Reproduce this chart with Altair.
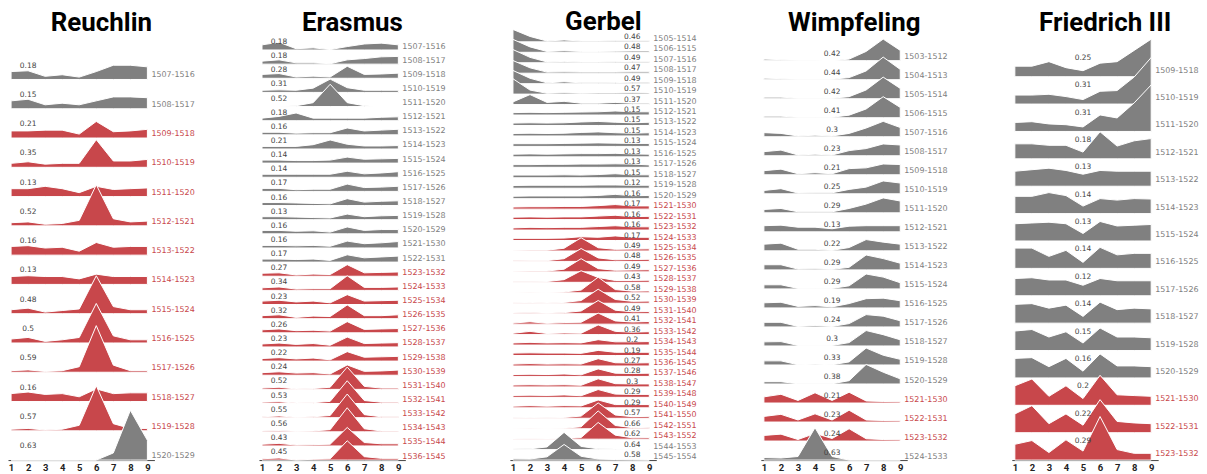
import altair as alt
import pandas as pd

X = [1, 2, 3, 4, 5, 6, 7, 8, 9]

# ---------------- Reuchlin ----------------
REU_FIRST = 1507
REU_RED = (1509, 1519)
REU_MAX = [0.18, 0.15, 0.21, 0.35, 0.13, 0.52, 0.16, 0.13, 0.48, 0.5, 0.59, 0.16, 0.57, 0.63]
REU_VALUES = [
    [0.10, 0.11, 0.04, 0.06, 0.03, 0.10, 0.18, 0.18, 0.16],
    [0.10, 0.12, 0.05, 0.07, 0.05, 0.10, 0.15, 0.15, 0.14],
    [0.09, 0.09, 0.10, 0.10, 0.05, 0.21, 0.08, 0.09, 0.11],
    [0.05, 0.07, 0.04, 0.05, 0.05, 0.35, 0.08, 0.08, 0.10],
    [0.10, 0.10, 0.13, 0.10, 0.05, 0.13, 0.09, 0.10, 0.11],
    [0.04, 0.05, 0.02, 0.03, 0.07, 0.52, 0.09, 0.05, 0.06],
    [0.11, 0.12, 0.09, 0.10, 0.05, 0.16, 0.10, 0.11, 0.11],
    [0.10, 0.11, 0.10, 0.10, 0.07, 0.13, 0.10, 0.10, 0.10],
    [0.05, 0.07, 0.02, 0.04, 0.06, 0.48, 0.09, 0.05, 0.05],
    [0.05, 0.07, 0.02, 0.04, 0.07, 0.50, 0.09, 0.04, 0.04],
    [0.02, 0.03, 0.01, 0.02, 0.07, 0.59, 0.09, 0.02, 0.02],
    [0.10, 0.12, 0.09, 0.10, 0.06, 0.16, 0.10, 0.11, 0.11],
    [0.02, 0.03, 0.01, 0.02, 0.07, 0.57, 0.09, 0.03, 0.03],
    [0.00, 0.00, 0.00, 0.00, 0.00, 0.00, 0.09, 0.63, 0.25],
]

# ---------------- Erasmus ----------------
ERA_FIRST = 1507
ERA_RED = (1523, 1536)
ERA_MAX = [0.18, 0.18, 0.28, 0.31, 0.52, 0.18, 0.16, 0.21, 0.14, 0.14, 0.17, 0.16, 0.13, 0.16, 0.16,
           0.17, 0.27, 0.34, 0.23, 0.32, 0.26, 0.23, 0.22, 0.24, 0.52, 0.53, 0.55, 0.56, 0.43, 0.45]
ERA_VALUES = [
    [0.12, 0.18, 0.03, 0.05, 0.01, 0.08, 0.14, 0.16, 0.12],
    [0.07, 0.10, 0.03, 0.03, 0.01, 0.10, 0.13, 0.17, 0.18],
    [0.09, 0.11, 0.03, 0.05, 0.03, 0.28, 0.09, 0.10, 0.12],
    [0.05, 0.06, 0.05, 0.10, 0.31, 0.11, 0.05, 0.05, 0.05],
    [0.00, 0.01, 0.02, 0.09, 0.52, 0.09, 0.02, 0.00, 0.00],
    [0.06, 0.10, 0.18, 0.06, 0.06, 0.06, 0.06, 0.08, 0.09],
    [0.06, 0.06, 0.04, 0.05, 0.05, 0.16, 0.09, 0.11, 0.13],
    [0.06, 0.06, 0.06, 0.10, 0.21, 0.11, 0.07, 0.07, 0.08],
    [0.07, 0.07, 0.06, 0.06, 0.07, 0.14, 0.09, 0.10, 0.11],
    [0.07, 0.07, 0.07, 0.07, 0.07, 0.14, 0.08, 0.10, 0.13],
    [0.07, 0.07, 0.04, 0.05, 0.05, 0.17, 0.09, 0.10, 0.12],
    [0.07, 0.07, 0.06, 0.05, 0.04, 0.16, 0.08, 0.10, 0.11],
    [0.07, 0.07, 0.06, 0.05, 0.04, 0.13, 0.07, 0.09, 0.10],
    [0.08, 0.08, 0.06, 0.07, 0.04, 0.16, 0.08, 0.10, 0.10],
    [0.06, 0.06, 0.05, 0.06, 0.04, 0.16, 0.10, 0.12, 0.15],
    [0.07, 0.07, 0.06, 0.07, 0.04, 0.17, 0.10, 0.12, 0.14],
    [0.07, 0.08, 0.03, 0.05, 0.04, 0.27, 0.08, 0.09, 0.10],
    [0.06, 0.08, 0.03, 0.04, 0.04, 0.34, 0.07, 0.07, 0.08],
    [0.08, 0.10, 0.06, 0.08, 0.04, 0.23, 0.08, 0.09, 0.10],
    [0.07, 0.09, 0.03, 0.06, 0.05, 0.32, 0.07, 0.07, 0.09],
    [0.07, 0.09, 0.05, 0.06, 0.04, 0.26, 0.08, 0.09, 0.10],
    [0.07, 0.09, 0.06, 0.08, 0.04, 0.23, 0.08, 0.09, 0.10],
    [0.06, 0.08, 0.05, 0.07, 0.03, 0.22, 0.09, 0.10, 0.11],
    [0.06, 0.08, 0.05, 0.06, 0.03, 0.24, 0.09, 0.10, 0.12],
    [0.03, 0.05, 0.01, 0.02, 0.05, 0.52, 0.07, 0.03, 0.03],
    [0.03, 0.04, 0.01, 0.02, 0.05, 0.53, 0.07, 0.03, 0.03],
    [0.02, 0.04, 0.01, 0.02, 0.05, 0.55, 0.07, 0.02, 0.02],
    [0.02, 0.03, 0.01, 0.02, 0.05, 0.56, 0.07, 0.02, 0.02],
    [0.04, 0.06, 0.02, 0.03, 0.04, 0.43, 0.08, 0.05, 0.05],
    [0.03, 0.05, 0.00, 0.02, 0.03, 0.45, 0.08, 0.04, 0.04],
]

# ---------------- Gerbel ----------------
GER_FIRST = 1505
GER_RED = (1521, 1543)
GER_MAX = [0.46, 0.48, 0.49, 0.47, 0.49, 0.57, 0.37, 0.15, 0.15, 0.15, 0.13, 0.13, 0.13, 0.15, 0.12, 0.16,
           0.17, 0.16, 0.16, 0.17, 0.49, 0.48, 0.49, 0.43, 0.58, 0.52, 0.49, 0.41, 0.36, 0.2, 0.19, 0.27,
           0.28, 0.3, 0.29, 0.29, 0.57, 0.66, 0.62, 0.64, 0.58]
GER_VALUES = [
    [0.46, 0.20, 0.03, 0.07, 0.03, 0.03, 0.04, 0.04, 0.04],
    [0.48, 0.20, 0.03, 0.06, 0.03, 0.03, 0.04, 0.05, 0.05],
    [0.49, 0.20, 0.03, 0.05, 0.03, 0.03, 0.04, 0.05, 0.05],
    [0.47, 0.20, 0.04, 0.05, 0.04, 0.04, 0.04, 0.05, 0.05],
    [0.49, 0.20, 0.03, 0.07, 0.03, 0.03, 0.04, 0.05, 0.05],
    [0.57, 0.15, 0.03, 0.05, 0.03, 0.04, 0.04, 0.05, 0.04],
    [0.10, 0.37, 0.08, 0.12, 0.05, 0.05, 0.08, 0.05, 0.05],
    [0.09, 0.10, 0.09, 0.10, 0.11, 0.12, 0.15, 0.12, 0.12],
    [0.09, 0.10, 0.09, 0.10, 0.13, 0.15, 0.12, 0.10, 0.12],
    [0.09, 0.10, 0.09, 0.10, 0.13, 0.15, 0.12, 0.10, 0.12],
    [0.10, 0.10, 0.10, 0.11, 0.12, 0.13, 0.12, 0.11, 0.11],
    [0.10, 0.11, 0.10, 0.11, 0.12, 0.12, 0.13, 0.11, 0.10],
    [0.10, 0.10, 0.11, 0.11, 0.12, 0.12, 0.13, 0.12, 0.09],
    [0.10, 0.10, 0.10, 0.11, 0.10, 0.12, 0.15, 0.11, 0.11],
    [0.10, 0.11, 0.11, 0.11, 0.11, 0.12, 0.12, 0.11, 0.11],
    [0.09, 0.10, 0.10, 0.10, 0.10, 0.12, 0.16, 0.11, 0.12],
    [0.08, 0.09, 0.09, 0.10, 0.10, 0.13, 0.17, 0.12, 0.12],
    [0.09, 0.10, 0.09, 0.10, 0.10, 0.13, 0.16, 0.11, 0.12],
    [0.08, 0.10, 0.09, 0.10, 0.10, 0.13, 0.16, 0.12, 0.12],
    [0.08, 0.08, 0.08, 0.09, 0.14, 0.12, 0.17, 0.12, 0.12],
    [0.02, 0.03, 0.03, 0.10, 0.49, 0.12, 0.06, 0.07, 0.08],
    [0.02, 0.03, 0.03, 0.10, 0.48, 0.13, 0.06, 0.07, 0.08],
    [0.02, 0.03, 0.03, 0.10, 0.49, 0.12, 0.06, 0.07, 0.08],
    [0.02, 0.02, 0.03, 0.10, 0.43, 0.18, 0.07, 0.07, 0.08],
    [0.01, 0.02, 0.01, 0.03, 0.10, 0.58, 0.12, 0.06, 0.07],
    [0.02, 0.03, 0.01, 0.03, 0.10, 0.52, 0.14, 0.07, 0.08],
    [0.03, 0.04, 0.02, 0.04, 0.10, 0.49, 0.13, 0.07, 0.08],
    [0.04, 0.09, 0.03, 0.06, 0.07, 0.41, 0.12, 0.08, 0.10],
    [0.05, 0.12, 0.04, 0.06, 0.05, 0.36, 0.12, 0.09, 0.11],
    [0.08, 0.10, 0.08, 0.09, 0.08, 0.20, 0.12, 0.12, 0.13],
    [0.09, 0.10, 0.09, 0.09, 0.08, 0.19, 0.12, 0.12, 0.12],
    [0.07, 0.09, 0.07, 0.08, 0.07, 0.27, 0.12, 0.11, 0.12],
    [0.07, 0.08, 0.07, 0.09, 0.06, 0.28, 0.12, 0.11, 0.12],
    [0.07, 0.08, 0.07, 0.08, 0.06, 0.30, 0.12, 0.11, 0.11],
    [0.07, 0.08, 0.07, 0.09, 0.06, 0.29, 0.12, 0.11, 0.11],
    [0.06, 0.08, 0.06, 0.08, 0.07, 0.29, 0.12, 0.12, 0.12],
    [0.02, 0.03, 0.02, 0.03, 0.08, 0.57, 0.12, 0.06, 0.07],
    [0.01, 0.02, 0.01, 0.02, 0.07, 0.66, 0.12, 0.04, 0.05],
    [0.01, 0.02, 0.01, 0.02, 0.06, 0.62, 0.15, 0.05, 0.06],
    [0.04, 0.03, 0.10, 0.64, 0.12, 0.03, 0.02, 0.01, 0.01],
    [0.05, 0.04, 0.12, 0.58, 0.14, 0.04, 0.02, 0.01, 0.00],
]

# ---------------- Wimpfeling ----------------
WIM_FIRST = 1503
WIM_RED = (1521, 1523)
WIM_MAX = [0.42, 0.44, 0.42, 0.41, 0.3, 0.23, 0.21, 0.25, 0.29, 0.13, 0.22, 0.29, 0.29, 0.19, 0.24,
           0.3, 0.33, 0.38, 0.21, 0.23, 0.24, 0.63]
WIM_VALUES = [
    [0.03, 0.02, 0.01, 0.01, 0.00, 0.03, 0.18, 0.42, 0.20],
    [0.03, 0.02, 0.01, 0.01, 0.01, 0.04, 0.17, 0.44, 0.20],
    [0.03, 0.03, 0.01, 0.01, 0.01, 0.04, 0.17, 0.42, 0.20],
    [0.03, 0.03, 0.01, 0.01, 0.01, 0.05, 0.17, 0.41, 0.20],
    [0.08, 0.065, 0.015, 0.03, 0.015, 0.065, 0.17, 0.30, 0.18],
    [0.08, 0.11, 0.015, 0.03, 0.015, 0.10, 0.14, 0.23, 0.21],
    [0.08, 0.11, 0.02, 0.04, 0.02, 0.12, 0.135, 0.21, 0.20],
    [0.065, 0.10, 0.015, 0.02, 0.02, 0.085, 0.13, 0.25, 0.21],
    [0.065, 0.085, 0.02, 0.02, 0.02, 0.085, 0.17, 0.29, 0.23],
    [0.12, 0.13, 0.09, 0.09, 0.06, 0.11, 0.12, 0.12, 0.12],
    [0.13, 0.15, 0.03, 0.03, 0.01, 0.065, 0.22, 0.17, 0.13],
    [0.10, 0.10, 0.015, 0.02, 0.01, 0.05, 0.29, 0.22, 0.13],
    [0.08, 0.08, 0.01, 0.01, 0.01, 0.06, 0.29, 0.23, 0.12],
    [0.10, 0.11, 0.03, 0.045, 0.02, 0.085, 0.18, 0.19, 0.14],
    [0.09, 0.09, 0.01, 0.03, 0.01, 0.065, 0.24, 0.21, 0.12],
    [0.08, 0.085, 0.01, 0.01, 0.01, 0.065, 0.30, 0.22, 0.12],
    [0.08, 0.08, 0.005, 0.015, 0.005, 0.06, 0.33, 0.19, 0.11],
    [0.045, 0.045, 0.005, 0.005, 0.005, 0.065, 0.38, 0.23, 0.10],
    [0.12, 0.17, 0.05, 0.20, 0.05, 0.21, 0.04, 0.03, 0.025],
    [0.11, 0.15, 0.04, 0.16, 0.04, 0.23, 0.04, 0.03, 0.025],
    [0.11, 0.135, 0.03, 0.15, 0.05, 0.24, 0.045, 0.03, 0.025],
    [0.05, 0.04, 0.07, 0.63, 0.07, 0.00, 0.00, 0.00, 0.00],
]

# ---------------- Friedrich III ----------------
FRI_FIRST = 1509
FRI_RED = (1521, 1523)
FRI_MAX = [0.25, 0.31, 0.31, 0.18, 0.13, 0.14, 0.13, 0.14, 0.12, 0.14, 0.15, 0.16, 0.2, 0.22, 0.29]
FRI_VALUES = [
    [0.07, 0.07, 0.10, 0.06, 0.04, 0.09, 0.10, 0.175, 0.25],
    [0.06, 0.06, 0.065, 0.05, 0.03, 0.085, 0.09, 0.18, 0.31],
    [0.06, 0.065, 0.05, 0.045, 0.03, 0.11, 0.09, 0.19, 0.31],
    [0.10, 0.10, 0.09, 0.09, 0.045, 0.18, 0.085, 0.12, 0.135],
    [0.10, 0.11, 0.12, 0.105, 0.08, 0.105, 0.10, 0.10, 0.10],
    [0.115, 0.115, 0.14, 0.12, 0.05, 0.10, 0.09, 0.10, 0.097],
    [0.115, 0.12, 0.125, 0.115, 0.05, 0.13, 0.10, 0.105, 0.11],
    [0.135, 0.135, 0.08, 0.12, 0.04, 0.14, 0.09, 0.10, 0.10],
    [0.115, 0.12, 0.105, 0.105, 0.07, 0.115, 0.10, 0.10, 0.10],
    [0.125, 0.13, 0.10, 0.12, 0.045, 0.14, 0.09, 0.10, 0.095],
    [0.13, 0.14, 0.09, 0.125, 0.05, 0.15, 0.09, 0.09, 0.085],
    [0.13, 0.135, 0.075, 0.13, 0.045, 0.16, 0.08, 0.08, 0.075],
    [0.13, 0.175, 0.06, 0.13, 0.045, 0.20, 0.07, 0.065, 0.06],
    [0.125, 0.18, 0.06, 0.125, 0.05, 0.22, 0.075, 0.065, 0.06],
    [0.105, 0.13, 0.05, 0.135, 0.06, 0.29, 0.07, 0.045, 0.045],
]

GRAY = "#808080"
RED = "#c8474b"
H = 434
W = 147
PEAK_ROWS = 1.7
XDOM = [0.82, 9.41]

PANELS = [
    # name, first, red range, labels, values, row px, value-label x, label dy, year dy
    ("Reuchlin", REU_FIRST, REU_RED, REU_MAX, REU_VALUES, 29.4, 2, -12, -2),
    ("Erasmus", ERA_FIRST, ERA_RED, ERA_MAX, ERA_VALUES, 14.2, 2, -6, -1.5),
    ("Gerbel", GER_FIRST, GER_RED, GER_MAX, GER_VALUES, 10.5, 8, -3, -1),
    ("Wimpfeling", WIM_FIRST, WIM_RED, WIM_MAX, WIM_VALUES, 19.1, 5, -5, -1.5),
    ("Friedrich III", FRI_FIRST, FRI_RED, FRI_MAX, FRI_VALUES, 27.5, 5, -17, -4),
]


def build(name, first, red, labels, values, row_px, label_x, label_dy, year_dy):
    n = len(values)
    k = PEAK_ROWS / max(labels)
    arows, trows = [], []
    for i, vals in enumerate(values):
        start = first + i
        base = n - 1 - i
        hl = "red" if red[0] <= start <= red[1] else "gray"
        for x, v in zip(X, vals):
            arows.append({"row": i, "x": x, "base": base, "top": base + v * k, "hl": hl})
        trows.append({"row": i, "base": base, "hl": hl, "val": str(labels[i]),
                      "year": f"{start}-{start + 9}", "lx": label_x, "yx": 9})
    adf = pd.DataFrame(arows)
    tdf = pd.DataFrame(trows)

    xs = alt.Scale(domain=XDOM, nice=False, zero=False)
    ys = alt.Scale(domain=[0, H / row_px], nice=False, zero=False)
    cs = alt.Scale(domain=["gray", "red"], range=[GRAY, RED])
    xaxis = alt.Axis(values=X, tickCount=20, title=None, ticks=False, grid=False,
                     domainColor="#444", domainWidth=1,
                     labelFontWeight="bold", labelFontSize=9.5,
                     labelColor="#222", labelPadding=2,
                     labelOverlap=False, labelFlush=False,
                     labelFont="Roboto", format="d")

    area = alt.Chart(adf).mark_area(stroke="white", strokeWidth=1).encode(
        x=alt.X("x:Q", scale=xs, axis=xaxis),
        y=alt.Y("top:Q", scale=ys, axis=None),
        y2="base:Q",
        color=alt.Color("hl:N", scale=cs, legend=None),
        detail="row:N",
    )
    vtext = alt.Chart(tdf).mark_text(align="center", baseline="alphabetic", dy=label_dy,
                                     fontSize=7.5, font="DejaVu Sans", color="#444").encode(
        x=alt.X("lx:Q", scale=xs, axis=xaxis),
        y=alt.Y("base:Q", scale=ys, axis=None),
        text="val:N",
    )
    ytext = alt.Chart(tdf).mark_text(align="left", baseline="alphabetic", dx=4, dy=year_dy,
                                     fontSize=8, font="DejaVu Sans").encode(
        x=alt.X("yx:Q", scale=xs, axis=xaxis),
        y=alt.Y("base:Q", scale=ys, axis=None),
        text="year:N",
        color=alt.Color("hl:N", scale=cs, legend=None),
    )
    return alt.layer(area, vtext, ytext).properties(
        width=W, height=H,
        title=alt.Title(name, fontSize=26, font="Roboto", fontWeight="bold", color="#000",
                        anchor="middle", frame="bounds", offset=-29, baseline="alphabetic"),
    )


charts = [build(*p) for p in PANELS]
chart = alt.hconcat(*charts, spacing=105, bounds="flush").properties(
    padding={"left": 0, "top": 0, "right": 0, "bottom": 0}
).configure_view(stroke=None)

chart.save("out.html", embed_options={"renderer": "svg", "actions": False})
